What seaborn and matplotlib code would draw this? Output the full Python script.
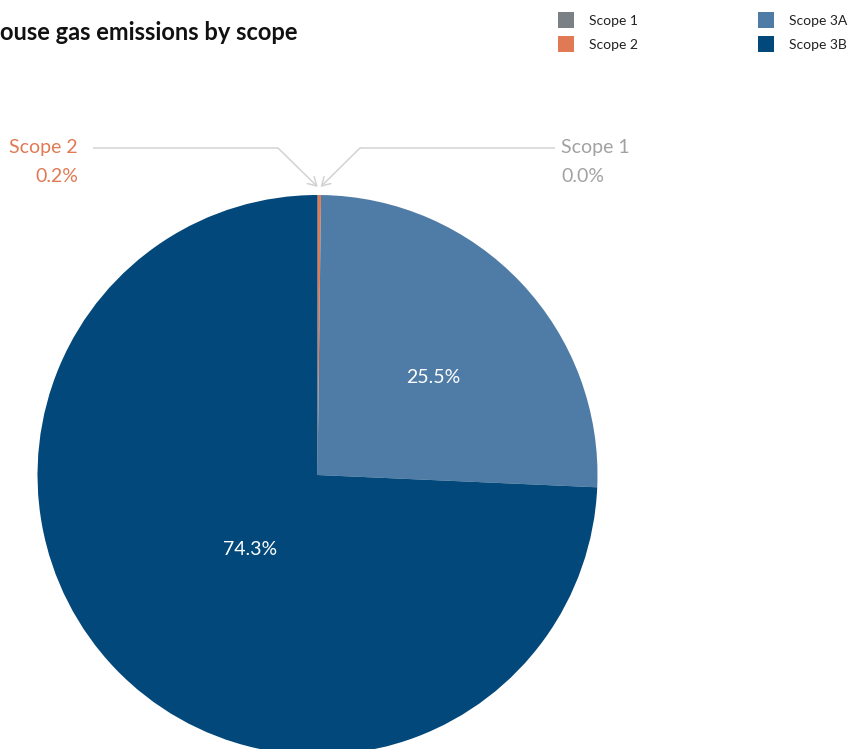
import numpy as np
import matplotlib
matplotlib.use("Agg")
import matplotlib.pyplot as plt
import seaborn as sns

# Share of greenhouse gas emissions (percent), clockwise from 12 o'clock
scopes = ["Scope 1", "Scope 2", "Scope 3A", "Scope 3B"]
shares = [0.0, 0.2, 25.5, 74.3]
palette = ["#7b8085", "#e07a55", "#4f7ca6", "#02487a"]
title = "Greenhouse gas emissions by scope"

sns.set_style("white")
plt.rcParams["font.family"] = ["Lato", "DejaVu Sans"]

W, H = 851, 749
fig = plt.figure(figsize=(W / 100, H / 100), dpi=100)
ax = fig.add_axes([0, 0, 1, 1])

cx, cy, R = 317.5, H - 475, 280
wedges, _ = ax.pie(shares, colors=palette, startangle=90, counterclock=False,
                   center=(cx, cy), radius=R, normalize=True,
                   wedgeprops=dict(linewidth=0))
ax.set_xlim(0, W)
ax.set_ylim(0, H)
ax.set_aspect("auto")
ax.axis("off")

# Inside labels for the two large slices: (radius fraction, angle shift in degrees)
inner_pos = {"Scope 3A": (0.54, -3.4), "Scope 3B": (0.36, 4.3)}
for w, name, val in zip(wedges, scopes, shares):
    if name in inner_pos:
        frac, shift = inner_pos[name]
        ang = np.deg2rad((w.theta1 + w.theta2) / 2 + shift)
        r = R * frac
        ax.text(cx + r * np.cos(ang), cy + r * np.sin(ang), f"{val:.1f}%",
                color="white", fontsize=14, ha="center", va="center")

# Outside labels with leader lines for the two tiny slices
line_col = "#d3d3d3"
outer = {
    "Scope 2": dict(text_x=78, ha="right", line_x0=93, elbow_x=278, color="#e07a55"),
    "Scope 1": dict(text_x=561, ha="left", line_x0=555, elbow_x=360, color="#a2a2a2"),
}
row_y = H - 148
for w, name, val in zip(wedges, scopes, shares):
    if name not in outer:
        continue
    o = outer[name]
    ang = np.deg2rad((w.theta1 + w.theta2) / 2)
    tip_x = cx + (R + 8) * np.cos(ang) + (-1.5 if name == "Scope 2" else 3)
    tip_y = cy + (R + 8) * np.sin(ang)
    ax.plot([o["line_x0"], o["elbow_x"]], [row_y, row_y], color=line_col, lw=1.1,
            solid_capstyle="butt")
    ax.annotate("", xy=(tip_x, tip_y), xytext=(o["elbow_x"], row_y),
                arrowprops=dict(arrowstyle="->,head_length=0.6,head_width=0.35",
                                color=line_col, lw=1.1, shrinkA=0, shrinkB=0))
    ax.text(o["text_x"], row_y, name, color=o["color"], fontsize=14,
            ha=o["ha"], va="center")
    ax.text(o["text_x"], row_y - 28.5, f"{val:.1f}%", color=o["color"], fontsize=14,
            ha=o["ha"], va="center")

# Title, anchored on its right end
fig.text(297 / W, 1 - 32 / H, title, fontsize=17, fontweight="bold",
         color="#111111", ha="right", va="center")

# Legend: two single-column blocks at the top right
leg_kw = dict(loc="upper left", frameon=False, fontsize=10,
              handlelength=1.15, handleheight=1.39, handletextpad=1.08,
              labelspacing=0.58, borderpad=0, borderaxespad=0)
for idx, x0 in (([0, 1], 558), ([2, 3], 758)):
    leg = fig.legend([wedges[i] for i in idx], [scopes[i] for i in idx],
                     bbox_to_anchor=(x0 / W, 1 - 12 / H), **leg_kw)
    for t in leg.get_texts():
        t.set_color("#222222")

fig.savefig("out.png", dpi=100)
